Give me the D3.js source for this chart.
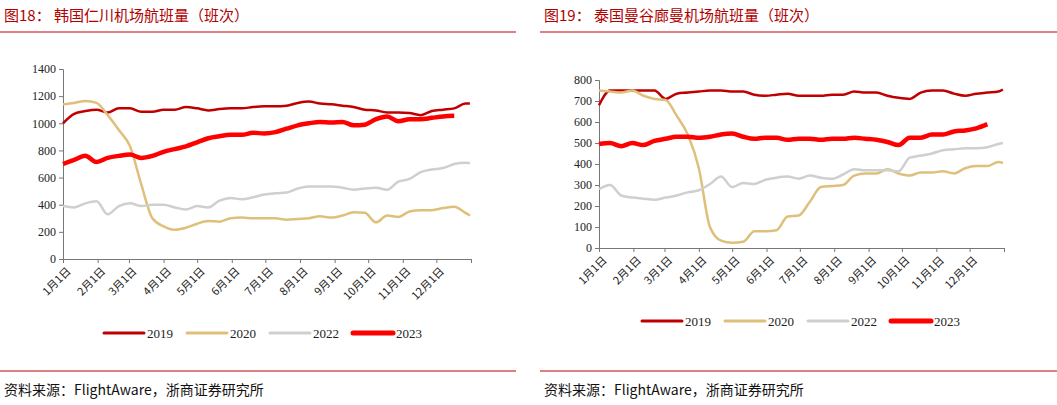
<!DOCTYPE html><html><head><meta charset="utf-8"><script src="https://cdn.jsdelivr.net/npm/d3@7"></script>
<style>body{margin:0;background:#fff}svg{display:block}</style></head><body><svg width="1057" height="405"></svg>
<script>
const days=d3.range(0,361,10).concat([364]);
const monthLabels=["1月1日","2月1日","3月1日","4月1日","5月1日","6月1日","7月1日","8月1日","9月1日","10月1日","11月1日","12月1日"];
const monthDays=[0,31,59,90,120,151,181,212,243,273,304,334];
const seriesNames=["2019","2020","2022","2023"];
const icn2019=[1000,1070,1090,1100,1080,1110,1110,1085,1085,1100,1100,1120,1110,1095,1105,1110,1110,1120,1125,1125,1130,1150,1160,1145,1140,1130,1120,1100,1095,1080,1080,1075,1060,1090,1100,1110,1145,1145];
const icn2020=[1140,1150,1165,1150,1060,950,830,550,300,240,215,230,260,280,275,300,305,300,300,300,290,295,300,315,305,320,345,340,270,320,310,350,360,360,375,385,340,320];
const icn2022=[390,380,410,425,330,390,410,390,400,400,380,365,390,380,430,450,440,455,475,485,490,520,535,535,535,525,510,520,525,510,570,590,640,660,670,700,710,705];
const icn2023=[700,730,760,715,745,760,770,745,760,790,810,830,860,890,905,915,915,930,925,935,960,985,1000,1010,1005,1010,985,990,1030,1050,1015,1030,1030,1040,1050,1055,null,null];
const bkk2019=[680,750,750,750,750,750,710,735,740,745,750,750,745,745,730,725,730,735,725,725,725,730,730,745,740,740,725,715,710,740,750,750,735,725,735,740,745,755];
const bkk2020=[750,745,740,750,725,710,705,630,540,380,100,35,25,30,80,80,85,150,155,220,290,295,300,345,355,355,375,355,345,360,360,365,355,380,390,390,410,405];
const bkk2022=[280,300,250,240,235,230,240,250,265,275,305,340,290,310,305,325,335,340,330,345,335,330,350,375,370,370,370,365,430,440,450,465,470,475,475,480,495,500];
const bkk2023=[495,500,485,500,490,510,520,530,530,525,530,540,545,530,520,525,525,515,520,520,515,520,520,525,520,515,505,490,525,525,540,540,555,560,570,590,null,null];
const colors=["#c00000","#dfc07a","#cfcfcf","#ff0000"];
const widths=[2.5,2.5,2.5,4.5];
const svg=d3.select("svg");
const serif="'Liberation Serif','Times New Roman',serif";
const cjk="'Noto Sans CJK SC',sans-serif";
function panel(o){
  const g=svg.append("g");
  g.append("text").attr("x",o.x0+4).attr("y",21).attr("fill","#b00000").attr("font-family",cjk).attr("font-size",15).text(o.title);
  g.append("line").attr("x1",o.x0).attr("x2",o.x1).attr("y1",32).attr("y2",32).attr("stroke","#c00000").attr("stroke-width",1);
  g.append("line").attr("x1",o.x0).attr("x2",o.x1).attr("y1",371).attr("y2",371).attr("stroke","#c00000").attr("stroke-width",1);
  g.append("text").attr("x",o.x0+4).attr("y",395).attr("font-family",cjk).attr("font-size",14).attr("fill","#111").text("资料来源：FlightAware，浙商证券研究所");
  const x=d3.scaleLinear().domain([0,365]).range([o.px0,o.px1]);
  const y=d3.scaleLinear().domain([0,o.ymax]).range([o.py0,o.py1]);
  const ya=g.append("g").attr("transform",`translate(${o.px0},0)`).call(d3.axisLeft(y).tickValues(o.ticks).tickSize(4).tickFormat(d3.format("d")));
  ya.selectAll("text").attr("font-family",serif).attr("font-size",12).attr("fill","#222");
  ya.select(".domain").attr("stroke","#777");ya.selectAll(".tick line").attr("stroke","#777");
  const xa=g.append("g").attr("transform",`translate(0,${o.py0})`).call(d3.axisBottom(x).tickValues(monthDays.concat([365])).tickSize(4).tickFormat((d,i)=>monthLabels[i]||""));
  xa.select(".domain").attr("stroke","#777");xa.selectAll(".tick line").attr("stroke","#777");
  xa.selectAll("text").attr("font-family",cjk).attr("font-size",11).attr("fill","#222").attr("text-anchor","end").attr("dy",0).attr("transform","translate(3,8) rotate(-45)");
  o.data.forEach((s,i)=>{
    const line=d3.line().defined(d=>d!=null).x((d,j)=>x(days[j])).y(d=>y(d)).curve(d3.curveMonotoneX);
    g.append("path").datum(s).attr("d",line).attr("fill","none").attr("stroke",colors[i]).attr("stroke-width",widths[i]).attr("stroke-linejoin","round");
  });
  const lg=g.append("g").attr("transform",`translate(${o.lx},${o.ly})`);
  seriesNames.forEach((n,i)=>{
    const gx=i*83;
    lg.append("line").attr("x1",gx).attr("x2",gx+40).attr("stroke",colors[i]).attr("stroke-width",widths[i]+0.5).attr("stroke-linecap","round");
    lg.append("text").attr("x",gx+43).attr("y",4.5).attr("font-family",serif).attr("font-size",13).attr("fill","#222").text(n);
  });
}
panel({x0:0,x1:516,title:"图18：  韩国仁川机场航班量（班次）",px0:63,px1:471,py0:259,py1:69,ymax:1400,ticks:d3.range(0,1401,200),data:[icn2019,icn2020,icn2022,icn2023],lx:104,ly:333});
panel({x0:540,x1:1057,title:"图19：  泰国曼谷廊曼机场航班量（班次）",px0:599,px1:1004,py0:248,py1:80,ymax:800,ticks:d3.range(0,801,100),data:[bkk2019,bkk2020,bkk2022,bkk2023],lx:642,ly:321});
</script></body></html>
